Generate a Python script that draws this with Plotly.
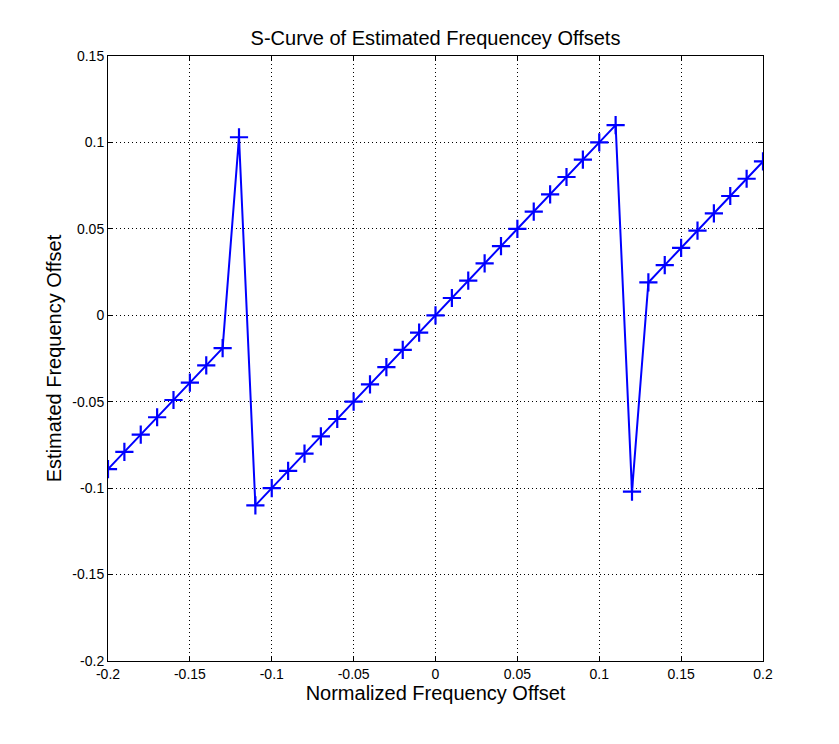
import plotly.graph_objects as go

# normalized frequency offset (x) and estimated offset (y)
freq_offset = [-0.20, -0.19, -0.18, -0.17, -0.16, -0.15, -0.14, -0.13, -0.12, -0.11,
               -0.10, -0.09, -0.08, -0.07, -0.06, -0.05, -0.04, -0.03, -0.02, -0.01,
               0.00, 0.01, 0.02, 0.03, 0.04, 0.05, 0.06, 0.07, 0.08, 0.09,
               0.10, 0.11, 0.12, 0.13, 0.14, 0.15, 0.16, 0.17, 0.18, 0.19, 0.20]
est_offset = [-0.089, -0.079, -0.069, -0.059, -0.049, -0.039, -0.029, -0.019, 0.103, -0.110,
              -0.100, -0.090, -0.080, -0.070, -0.060, -0.050, -0.040, -0.030, -0.020, -0.010,
              0.000, 0.010, 0.020, 0.030, 0.040, 0.050, 0.060, 0.070, 0.080, 0.090,
              0.100, 0.110, -0.102, 0.019, 0.029, 0.039, 0.049, 0.059, 0.069, 0.079, 0.089]

x_ticks = [-0.2, -0.15, -0.1, -0.05, 0, 0.05, 0.1, 0.15, 0.2]
x_labels = ["-0.2", "-0.15", "-0.1", "-0.05", "0", "0.05", "0.1", "0.15", "0.2"]
y_ticks = [-0.2, -0.15, -0.1, -0.05, 0, 0.05, 0.1, 0.15]
y_labels = ["-0.2", "-0.15", "-0.1", "-0.05", "0", "0.05", "0.1", "0.15"]

fig = go.Figure()
fig.add_trace(go.Scatter(x=freq_offset, y=est_offset, mode="lines+markers",
                         line=dict(color="#0000ff", width=2),
                         marker=dict(symbol="cross-thin", size=13,
                                     line=dict(color="#0000ff", width=2.2))))

axis_style = dict(showline=True, linecolor="black", linewidth=1, mirror="ticks",
                  ticks="inside", ticklen=5, tickcolor="black", automargin=False,
                  showgrid=True, gridcolor="black", gridwidth=1, griddash="1px,3px",
                  zeroline=False, tickfont=dict(size=14, color="black"))

# page body adds ~8px offset, so margins are shifted up/left
fig.update_layout(
    width=839, height=744,
    paper_bgcolor="white", plot_bgcolor="white",
    font=dict(family="Liberation Sans, Arial, sans-serif", color="black"),
    margin=dict(l=100, r=84, t=48, b=91, autoexpand=False),
    showlegend=False,
    title=dict(text="S-Curve of Estimated Frequencey Offsets", x=0.5, xanchor="center",
               xref="paper", y=1 - 30 / 744, yanchor="middle", font=dict(size=20),
               automargin=False),
    xaxis=dict(range=[-0.2, 0.2], tickvals=x_ticks, ticktext=x_labels,
               title=dict(text="Normalized Frequency Offset", font=dict(size=20), standoff=2),
               **axis_style),
    yaxis=dict(range=[-0.2, 0.15], tickvals=y_ticks, ticktext=y_labels,
               title=dict(text="Estimated Frequency Offset", font=dict(size=20), standoff=5),
               **axis_style),
)

fig.write_html("out.html")
